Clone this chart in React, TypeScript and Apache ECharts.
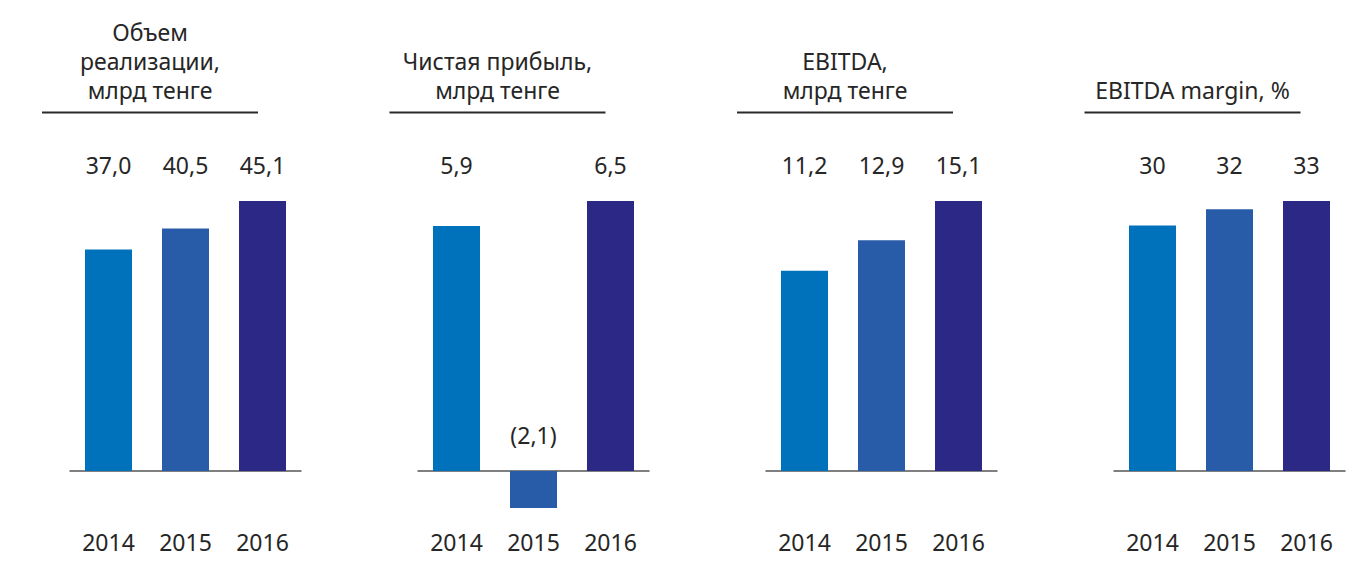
import React, { useEffect, useRef } from "react";
import * as echarts from "echarts";

const years = ["2014", "2015", "2016"];
const salesVolume = [37.0, 40.5, 45.1];
const netProfit = [5.9, -2.1, 6.5];
const ebitda = [11.2, 12.9, 15.1];
const ebitdaMargin = [30, 32, 33];
const panelTitles = [
  "Объем\nреализации,\nмлрд тенге",
  "Чистая прибыль,\nмлрд тенге",
  "EBITDA,\nмлрд тенге",
  "EBITDA margin, %",
];
const panelDecimals = [1, 1, 1, 0];
const barColors = ["#0071BB", "#285CA9", "#2B2985"];

const FONT = "'Noto Sans', 'Open Sans', sans-serif";
const TEXT = "#262626";
const FS = 23;

export default function App() {
  const ref = useRef<HTMLDivElement>(null);
  useEffect(() => {
    document.body.style.margin = "0";
    const chart = echarts.init(ref.current!, null, { renderer: "svg" });
    const panels = [salesVolume, netProfit, ebitda, ebitdaMargin];
    const step = 348;
    const grids: any[] = [];
    const xAxes: any[] = [];
    const yAxes: any[] = [];
    const series: any[] = [];
    const graphics: any[] = [];
    panels.forEach((vals, i) => {
      const maxV = Math.max(...vals);
      const hasNeg = Math.min(...vals) < 0;
      const barZone = 270; // px from zero to max
      const negZone = 37; // px shown below zero (broken axis)
      grids.push({
        left: 70 + i * step,
        width: 231,
        top: 201,
        height: hasNeg ? barZone + negZone : barZone,
        outerBoundsMode: "none",
        containLabel: false,
      });
      xAxes.push({
        type: "category",
        gridIndex: i,
        data: years,
        axisLine: { onZero: true, lineStyle: { color: "#555", width: 1.5 } },
        axisTick: { show: false },
        axisLabel: {
          margin: hasNeg ? 59 - negZone : 59,
          fontSize: FS,
          fontFamily: FONT,
          color: TEXT,
        },
      });
      yAxes.push({
        type: "value",
        gridIndex: i,
        min: hasNeg ? -(maxV * negZone) / barZone : 0,
        max: maxV,
        show: false,
        splitLine: { show: false },
      });
      const dec = panelDecimals[i];
      const fmt = (v: number) => {
        const s = Math.abs(v).toFixed(dec).replace(".", ",");
        return v < 0 ? `(${s})` : s;
      };
      series.push({
        type: "bar",
        xAxisIndex: i,
        yAxisIndex: i,
        barWidth: 47,
        clip: true,
        z: 2,
        data: vals.map((v, j) => ({ value: v, itemStyle: { color: barColors[j] } })),
      });
      // label carrier: labels aligned at the top of the panel (or at zero for negatives)
      series.push({
        type: "bar",
        xAxisIndex: i,
        yAxisIndex: i,
        barWidth: 47,
        barGap: "-100%",
        z: 1,
        silent: true,
        itemStyle: { color: "transparent" },
        data: vals.map((v) => (v < 0 ? 0 : maxV)),
        label: {
          show: true,
          position: "top",
          distance: 25,
          fontSize: FS,
          fontFamily: FONT,
          color: TEXT,
          formatter: (p: any) => fmt(vals[p.dataIndex]),
        },
      });
      const lineStart = 42 + i * 347.5;
      graphics.push({
        type: "line",
        shape: { x1: lineStart, y1: 112.5, x2: lineStart + 216, y2: 112.5 },
        style: { stroke: "#2a2a2a", lineWidth: 2 },
      });
      graphics.push({
        type: "text",
        x: lineStart + 108,
        y: 104,
        style: {
          text: panelTitles[i],
          fontSize: FS,
          fontFamily: FONT,
          fill: TEXT,
          align: "center",
          verticalAlign: "bottom",
          lineHeight: 29,
        },
      });
    });
    chart.setOption({
      animation: false,
      backgroundColor: "#ffffff",
      grid: grids,
      xAxis: xAxes,
      yAxis: yAxes,
      series,
      graphic: graphics,
    });
    return () => chart.dispose();
  }, []);
  return <div ref={ref} style={{ width: 1366, height: 562 }} />;
}
